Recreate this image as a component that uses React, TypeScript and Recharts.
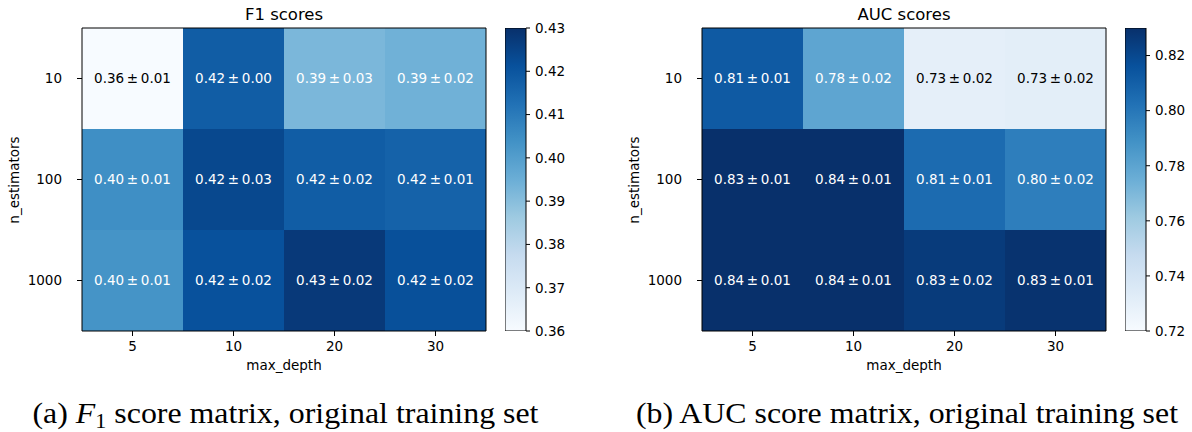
import { Bar, BarChart, ReferenceArea, Scatter, ScatterChart, XAxis, YAxis } from 'recharts';

// grid hyper-parameters
const depthLabels = ['5', '10', '20', '30'];
const estimatorLabels = ['10', '100', '1000'];

// mean / std of the CV scores, rows = n_estimators, cols = max_depth
const f1Mean = [
  [0.36, 0.4181, 0.3922, 0.3941],
  [0.4045, 0.4237, 0.418, 0.4167],
  [0.4032, 0.4213, 0.4275, 0.4216],
];
const f1Std = [
  [0.01, 0.0, 0.03, 0.02],
  [0.01, 0.03, 0.02, 0.01],
  [0.01, 0.02, 0.02, 0.02],
];
const aucMean = [
  [0.8124, 0.7794, 0.73, 0.7312],
  [0.8342, 0.8412, 0.8052, 0.797],
  [0.837, 0.839, 0.8256, 0.8289],
];
const aucStd = [
  [0.01, 0.02, 0.02, 0.02],
  [0.01, 0.01, 0.01, 0.02],
  [0.01, 0.01, 0.02, 0.01],
];

const f1Range: [number, number] = [0.36, 0.43];
const aucRange: [number, number] = [0.72, 0.83];
const f1Ticks = [0.36, 0.37, 0.38, 0.39, 0.4, 0.41, 0.42, 0.43];
const aucTicks = [0.72, 0.74, 0.76, 0.78, 0.8, 0.82];

// matplotlib "Blues"
const blues = ['#f7fbff', '#deebf7', '#c6dbef', '#9ecae1', '#6baed6', '#4292c6', '#2171b5', '#08519c', '#08306b'];

const FONT = '"DejaVu Sans", sans-serif';
const tickStyle = { fill: '#000', fontSize: 13.5, fontFamily: FONT };

function hexToRgb(h: string) {
  const n = parseInt(h.slice(1), 16);
  return [(n >> 16) & 255, (n >> 8) & 255, n & 255];
}

function bluesColor(t: number) {
  const c = Math.min(1, Math.max(0, t)) * (blues.length - 1);
  const i = Math.min(Math.floor(c), blues.length - 2);
  const f = c - i;
  const a = hexToRgb(blues[i]);
  const b = hexToRgb(blues[i + 1]);
  const rgb = a.map((v, k) => Math.round(v + (b[k] - v) * f));
  return `rgb(${rgb.join(',')})`;
}

type Cell = { col: number; row: number; mean: number; std: number };

function toCells(mean: number[][], std: number[][]): Cell[] {
  const out: Cell[] = [];
  mean.forEach((r, row) => r.forEach((m, col) => out.push({ col, row, mean: m, std: std[row][col] })));
  return out;
}

function Heatmap({ left, mean, std, range }: { left: number; mean: number[][]; std: number[][]; range: [number, number] }) {
  const cells = toCells(mean, std);
  const norm = (v: number) => (v - range[0]) / (range[1] - range[0]);

  return (
    <div style={{ position: 'absolute', left, top: 0 }}>
      <ScatterChart width={490} height={400} margin={{ top: 28, right: 4, bottom: 0, left: 0 }}>
        <XAxis
          type="number"
          dataKey="col"
          domain={[-0.5, 3.5]}
          ticks={[0, 1, 2, 3]}
          interval={0}
          tickFormatter={(i: number) => depthLabels[i]}
          height={69}
          tickSize={5}
          tickMargin={5}
          axisLine={false}
          tickLine={{ stroke: '#000' }}
          tick={tickStyle}
        />
        <YAxis
          type="number"
          dataKey="row"
          domain={[-0.5, 2.5]}
          reversed
          ticks={[0, 1, 2]}
          interval={0}
          tickFormatter={(i: number) => estimatorLabels[i]}
          width={82}
          tickSize={5}
          tickMargin={15}
          axisLine={false}
          tickLine={{ stroke: '#000' }}
          tick={tickStyle}
        />
        {cells.map((c) => (
          <ReferenceArea
            key={`${c.row}-${c.col}`}
            x1={c.col - 0.5}
            x2={c.col + 0.5}
            y1={c.row - 0.5}
            y2={c.row + 0.5}
            fill={bluesColor(norm(c.mean))}
            fillOpacity={1}
            stroke="none"
          />
        ))}
        <ReferenceArea x1={-0.5} x2={3.5} y1={-0.5} y2={2.5} fill="none" stroke="#000" strokeWidth={1} />
        <Scatter
          data={cells}
          isAnimationActive={false}
          shape={(p: any) => {
            const c = p.payload as Cell;
            return (
              <text
                x={p.cx}
                y={p.cy - 1}
                textAnchor="middle"
                dominantBaseline="central"
                fontSize={13.5}
                fontFamily={FONT}
                fill={norm(c.mean) < 0.3 ? '#000' : '#fff'}
              >
                {`${c.mean.toFixed(2)}\u2009\u00b1\u2009${c.std.toFixed(2)}`}
              </text>
            );
          }}
        />
      </ScatterChart>
    </div>
  );
}

// colour bar: one range bar from vmin to vmax filled with the colormap
function ColorBar({ left, range, ticks, id }: { left: number; range: [number, number]; ticks: number[]; id: string }) {
  const data = [{ name: 'scale', span: range }];
  return (
    <div style={{ position: 'absolute', left, top: 0 }}>
      <BarChart width={80} height={400} data={data} barCategoryGap={0} margin={{ top: 28, right: 0, bottom: 69, left: 0 }}>
        <defs>
          <linearGradient id={id} x1="0" y1="1" x2="0" y2="0">
            {blues.map((c, i) => (
              <stop key={c} offset={i / (blues.length - 1)} stopColor={c} />
            ))}
          </linearGradient>
        </defs>
        <XAxis dataKey="name" hide />
        <YAxis
          type="number"
          orientation="right"
          domain={range}
          allowDataOverflow
          ticks={ticks}
          interval={0}
          width={59}
          tickSize={4}
          tickMargin={5}
          axisLine={false}
          tickLine={{ stroke: '#000' }}
          tick={tickStyle}
          tickFormatter={(v: number) => v.toFixed(2)}
        />
        <Bar dataKey="span" fill={`url(#${id})`} stroke="#000" strokeWidth={1} isAnimationActive={false} />
      </BarChart>
    </div>
  );
}

function Labels({ left, title }: { left: number; title: string }) {
  return (
    <g transform={`translate(${left},0)`} fontFamily={FONT} fill="#000">
      <text x={284} y={20} textAnchor="middle" fontSize={16.5}>
        {title}
      </text>
      <text x={284} y={370} textAnchor="middle" fontSize={13.5}>
        max_depth
      </text>
      <text transform="translate(19,180) rotate(-90)" textAnchor="middle" fontSize={13.5}>
        n_estimators
      </text>
    </g>
  );
}

export default function App() {
  return (
    <div style={{ position: 'absolute', left: 0, top: 0, width: 1192, height: 432, background: '#fff', overflow: 'hidden' }}>
      <Heatmap left={0} mean={f1Mean} std={f1Std} range={f1Range} />
      <ColorBar left={505} range={f1Range} ticks={f1Ticks} id="cb-f1" />
      <Heatmap left={620} mean={aucMean} std={aucStd} range={aucRange} />
      <ColorBar left={1125} range={aucRange} ticks={aucTicks} id="cb-auc" />
      <svg width={1192} height={432} style={{ position: 'absolute', left: 0, top: 0, pointerEvents: 'none' }}>
        <Labels left={0} title="F1 scores" />
        <Labels left={620} title="AUC scores" />
        <g fontFamily='"Liberation Serif", serif' fontSize={29} fill="#000">
          <text x={32.5} y={423} textLength={506} lengthAdjust="spacingAndGlyphs">
            (a) <tspan fontStyle="italic">F</tspan>
            <tspan fontSize={20} dy={5}>1</tspan>
            <tspan dy={-5}> score matrix, original training set</tspan>
          </text>
          <text x={636} y={423} textLength={542} lengthAdjust="spacingAndGlyphs">
            (b) AUC score matrix, original training set
          </text>
        </g>
      </svg>
    </div>
  );
}
